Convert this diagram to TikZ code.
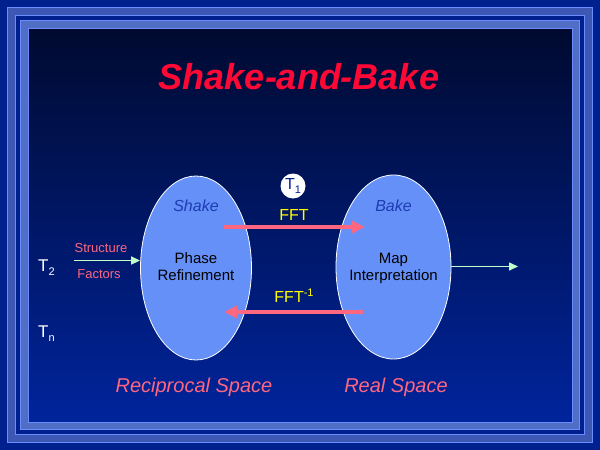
\documentclass[tikz,border=0pt]{standalone}
\usepackage{fontspec}
\setmainfont{Liberation Sans}
\usetikzlibrary{arrows.meta}
\definecolor{outerbg}{HTML}{00208E}
\definecolor{bandA}{HTML}{3C57B4}
\definecolor{bandB}{HTML}{506EC6}
\definecolor{rim}{HTML}{6A8CFF}
\definecolor{topbg}{HTML}{000A30}
\definecolor{botbg}{HTML}{00249C}
\definecolor{ellfill}{HTML}{6490F8}
\definecolor{pinkc}{HTML}{FF6680}
\definecolor{titlered}{HTML}{FF0835}
\definecolor{greenc}{HTML}{C0FFC8}
\definecolor{darkblue}{HTML}{1E3CB4}
\definecolor{yellowc}{HTML}{FFFF00}
\tikzset{
  ell/.style={ellipse, fill=ellfill, draw=white, line width=0.8pt, inner sep=0pt},
  lbl/.style={anchor=base, inner sep=0pt, font=\fontsize{15}{18}\selectfont, text=black},
  ital/.style={anchor=base, inner sep=0pt, font=\fontsize{16}{19}\selectfont\itshape, text=darkblue},
  pinktxt/.style={anchor=base, inner sep=0pt, font=\fontsize{13}{15}\selectfont, text=pinkc},
  spacetxt/.style={anchor=base, inner sep=0pt, font=\fontsize{20}{22}\selectfont\itshape, text=pinkc},
  ffttxt/.style={anchor=base, inner sep=0pt, font=\fontsize{16}{19}\selectfont, text=yellowc},
  ttxt/.style={anchor=base, inner sep=0pt, font=\fontsize{17}{20}\selectfont, text=white},
  fftarrow/.style={draw=pinkc, line width=3.5pt, -{Triangle[length=13pt,width=12pt]}},
  greenarrow/.style={draw=greenc, line width=1.5pt, -{Triangle[length=9pt,width=8pt]}},
}
\usetikzlibrary{shapes.geometric}
\newcommand{\sub}[1]{{\fontsize{11}{12}\selectfont\raisebox{-4pt}{#1}}}
\newcommand{\supx}[1]{{\fontsize{11}{12}\selectfont\raisebox{6pt}{#1}}}
\begin{document}
\begin{tikzpicture}[x=1pt,y=-1pt]
\useasboundingbox (0,0) rectangle (600,450);
% background and frames
\fill[outerbg] (0,0) rectangle (600,450);
\filldraw[fill=bandA, draw=rim, line width=1pt] (7.5,7.5) rectangle (592.5,442.5);
\filldraw[fill=outerbg, draw=rim, line width=1pt] (15.5,15.5) rectangle (584.5,434.5);
\filldraw[fill=bandB, draw=rim, line width=1pt] (20.5,20.5) rectangle (579.5,429.5);
\shade[top color=topbg, bottom color=botbg] (29,29) rectangle (572,422);
\draw[rim, line width=1pt] (28.5,28.5) rectangle (572.5,422.5);
% title
\node[anchor=base, inner sep=0pt, text=titlered, font=\fontsize{36}{40}\selectfont\bfseries\itshape] (title) at (299,89) {Shake-and-Bake};
% ellipses
\node[ell, minimum width=111pt, minimum height=184pt] (shake) at (196,268) {};
\node[ell, minimum width=115pt, minimum height=184pt] (bake) at (393.5,267) {};
\node[ital] (shaket) at (196,211) {Shake};
\node[ital] (baket) at (393.5,211) {Bake};
\node[lbl] (phase) at (196,263) {Phase};
\node[lbl] (refine) at (196,280) {Refinement};
\node[lbl] (map) at (393.5,263) {Map};
\node[lbl] (interp) at (393.5,280) {Interpretation};
% FFT arrows
\coordinate (fftA) at (224,227);
\coordinate (fftB) at (365,227);
\coordinate (ifftA) at (363,312);
\coordinate (ifftB) at (224,312);
\draw[fftarrow] (fftA) -- (fftB);
\draw[fftarrow] (ifftA) -- (ifftB);
\node[ffttxt] (fft) at (294,220) {FFT};
\node[ffttxt] (ifft) at (294,302) {FFT\supx{-1}};
% T1 circle
\node[circle, fill=white, minimum size=25pt, inner sep=0pt, text=outerbg, font=\fontsize{16}{18}\selectfont] (t1) at (293,186) {T\sub{1}};
% structure factors
\node[pinktxt] (struct) at (101,252) {Structure};
\node[pinktxt] (fact) at (99,278) {Factors};
\coordinate (sfstart) at (74,260.5);
\draw[greenarrow] (sfstart) -- (shake.west |- sfstart);
\coordinate (outend) at (518,266.5);
\draw[greenarrow] (bake.east |- outend) -- (outend);
% T labels
\node[ttxt, anchor=base west] (t2) at (38,271) {T\sub{2}};
\node[ttxt, anchor=base west] (tn) at (38,337) {T\sub{n}};
% space labels
\node[spacetxt] (recip) at (194,392) {Reciprocal Space};
\node[spacetxt] (real) at (396,392) {Real Space};
\end{tikzpicture}
\end{document}
